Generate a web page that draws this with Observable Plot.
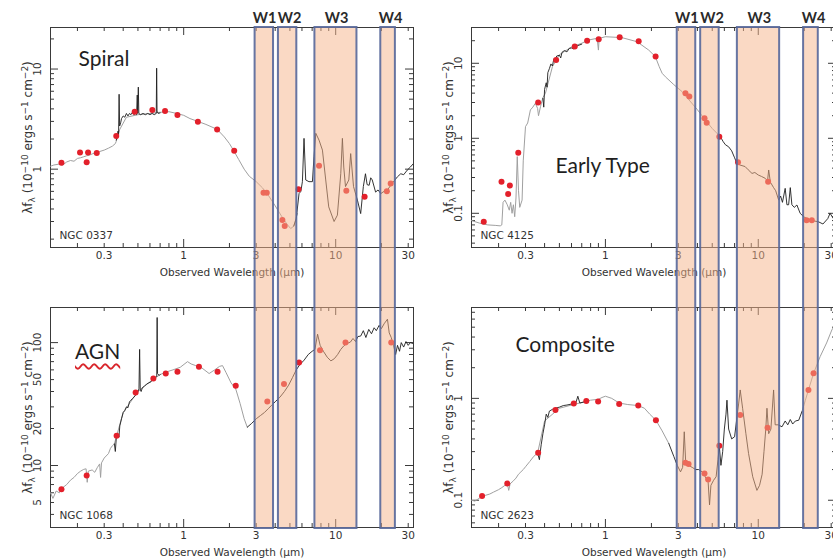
<!DOCTYPE html>
<html><head><meta charset="utf-8">
<script src="https://cdn.jsdelivr.net/npm/d3@7"></script>
<script src="https://cdn.jsdelivr.net/npm/@observablehq/plot@0.6"></script>
<style>
body{margin:0;background:#fff;}
#wrap{position:relative;width:833px;height:559px;overflow:hidden;background:#fff;}
#wrap svg{position:absolute;}
.htitle{position:absolute;font-family:Lato,sans-serif;font-size:21px;line-height:21px;color:#1f1f1f;white-space:nowrap;
 text-decoration:underline wavy #d9262c;text-decoration-thickness:1.5px;text-underline-offset:4px;text-decoration-skip-ink:none;}
</style></head><body><div id="wrap"></div>
<script>
// ---------- shared axis values ----------
const xDomain = [0.133, 32.5];
const xTickLabels = [0.3, 0.6, 1, 3, 6, 10, 30];
const xMajor = [1, 10];
const xMinor = [0.2,0.3,0.4,0.5,0.6,0.7,0.8,0.9,2,3,4,5,6,7,8,9,20,30];

// ---------- WISE bands ----------
const bandNames = ["W1", "W2", "W3", "W4"];
const bandLo = [2.95, 4.2, 7.3, 19.8];
const bandHi = [3.9, 5.55, 13.8, 24.7];
const bandLabelAt = [3.41, 4.98, 10.15, 23.0];

// ---------- Spiral (NGC 0337) ----------
const spiralModel = [
 [[0.133,1.07],[0.14,1.1],[0.15,1.12],[0.16,1.1],[0.17,1.18],[0.18,1.22],[0.19,1.2],[0.2,1.28],[0.21,1.3],[0.22,1.33],[0.23,1.36],[0.24,1.38],[0.25,1.42],[0.26,1.45],[0.28,1.5],[0.3,1.55],[0.32,1.62],[0.34,1.7],[0.355,1.8],[0.36,1.9],[0.38,2.5],[0.42,3.3],[0.5,3.5],[0.6,3.6],[0.7,3.7],[0.8,3.75],[0.9,3.6],[1.0,3.45],[1.1,3.2],[1.24,3.0],[1.4,2.8],[1.66,2.5],[1.85,2.1],[2.0,1.8],[2.15,1.5],[2.3,1.25],[2.5,1.0],[2.7,0.85],[3.0,0.75],[3.3,0.65],[3.6,0.55],[4.0,0.43],[4.4,0.34],[4.8,0.28],[5.06,0.255],[5.3,0.27],[5.6,0.36]]
];
const spiralSpec = [
 [[0.36,1.95],[0.365,2.1],[0.37,2.4],[0.373,2.2],[0.376,5.6],[0.379,2.7],[0.385,2.9],[0.39,3.2],[0.4,3.4],[0.41,3.3],[0.42,3.6],[0.43,3.4],[0.44,3.6],[0.45,3.5],[0.46,3.7],[0.47,3.5],[0.48,3.6],[0.49,3.5],[0.495,5.5],[0.498,3.6],[0.503,6.6],[0.507,3.6],[0.52,3.5],[0.54,3.6],[0.56,3.5],[0.58,3.6],[0.6,3.5],[0.62,3.6],[0.64,3.5],[0.66,3.6],[0.664,10.2],[0.668,3.8],[0.68,3.6],[0.7,3.65]],
 [[5.3,0.27],[5.5,0.32],[5.74,0.57],[5.9,0.6],[6.04,0.75],[6.19,2.03],[6.35,0.78],[6.67,0.75],[7.03,0.75],[7.2,1.33],[7.4,2.28],[7.77,1.95],[8.18,1.55],[8.6,0.78],[9.0,0.42],[9.76,0.3],[10.26,0.347],[10.8,0.9],[11.07,2.03],[11.3,1.05],[11.6,0.67],[12.2,0.78],[12.55,1.43],[13.1,0.67],[13.9,0.49],[14.6,0.36],[15.2,0.67],[15.7,0.9],[16.1,0.7],[16.6,0.69],[17.0,0.82],[17.4,0.78],[18.3,0.59],[19.0,0.62],[19.8,0.57],[20.8,0.6],[21.9,0.62],[23.5,0.72],[25.5,0.84],[26.8,0.9],[28.0,0.88],[29.6,0.98],[31,1.05],[32.5,1.14]]
];
const spiralPhot = [[0.157,1.16],[0.208,1.47],[0.23,1.17],[0.235,1.47],[0.268,1.45],[0.36,2.14],[0.476,3.74],[0.622,3.9],[0.754,3.8],[0.91,3.47],[1.24,2.97],[1.66,2.49],[2.15,1.53],[3.35,0.58],[3.52,0.58],[4.46,0.31],[4.62,0.27],[5.69,0.63],[7.77,1.08],[11.75,0.61],[15.5,0.53],[21.7,0.6],[23,0.72]];

// ---------- Early Type (NGC 4125) ----------
const earlyModel = [
 [[0.133,0.08],[0.15,0.074],[0.17,0.07],[0.19,0.069],[0.205,0.068],[0.21,0.07],[0.214,0.14],[0.22,0.15],[0.228,0.13],[0.235,0.11],[0.24,0.14],[0.245,0.1],[0.25,0.13],[0.255,0.09],[0.26,0.16],[0.265,0.57],[0.27,0.2],[0.275,0.12],[0.285,0.15],[0.29,0.5],[0.3,1.43],[0.31,1.6],[0.323,2.39],[0.335,2.6],[0.348,2.93],[0.36,2.5],[0.365,2.0],[0.376,2.64],[0.39,3.5],[0.405,3.98],[0.45,9],[0.5,13],[0.6,16.5],[0.7,18.5],[0.78,20.5],[0.883,21.5],[0.9,15],[0.91,21.5],[1.0,22.6],[1.28,22],[1.61,19.4],[1.92,15],[2.12,12.3],[2.25,9],[2.35,7.36],[2.47,6.6],[2.8,5.2],[3.17,4.2],[3.5,3.3],[4.0,2.4],[4.5,1.76],[5.0,1.35],[5.65,1.05]]
];
const earlySpec = [
 [[0.39,3.4],[0.395,2.6],[0.4,4.5],[0.41,5.5],[0.415,4.8],[0.42,7.5],[0.43,8.5],[0.44,9.8],[0.45,9.2],[0.46,11.5],[0.47,11.1],[0.48,12.5],[0.5,12.8],[0.51,11.8],[0.52,14],[0.54,14.8],[0.56,14.2],[0.58,15.8],[0.6,16],[0.62,15.5],[0.64,17],[0.66,17.2],[0.7,18]],
 [[5.65,1.05],[5.9,0.9],[6.1,0.82],[6.4,0.77],[6.7,0.68],[7.0,0.55],[7.26,0.46],[7.6,0.44],[8.2,0.42],[8.6,0.38],[9.1,0.34],[9.5,0.35],[10.0,0.324],[10.5,0.31],[11.1,0.293],[11.5,0.27],[11.7,0.378],[12.0,0.26],[12.6,0.22],[13.0,0.2],[13.6,0.15],[14.0,0.17],[14.4,0.14],[15.0,0.215],[15.4,0.13],[15.8,0.13],[16.2,0.22],[16.6,0.13],[17.2,0.12],[17.9,0.129],[18.8,0.1],[19.8,0.09],[20.7,0.0857],[22.5,0.08],[24.8,0.077],[26.5,0.072],[28.5,0.085],[29.5,0.1],[31,0.085],[32.5,0.09]]
];
const earlyPhot = [[0.16,0.077],[0.209,0.264],[0.231,0.181],[0.237,0.234],[0.269,0.644],[0.363,2.99],[0.476,11.1],[0.63,16.7],[0.759,20],[0.904,20.9],[1.24,22.2],[1.65,19.6],[2.13,12.3],[3.34,3.98],[3.54,3.6],[4.45,1.85],[4.6,1.61],[5.56,1.05],[7.37,0.48],[11.6,0.264],[20.7,0.081],[22.4,0.081]];

// ---------- AGN (NGC 1068) ----------
const agnModel = [
 [[0.133,6.0],[0.138,5.4],[0.145,6.2],[0.152,6.0],[0.16,6.6],[0.17,7.0],[0.18,7.6],[0.19,8.0],[0.2,8.6],[0.21,9.0],[0.22,9.3],[0.228,9.4],[0.232,7.3],[0.236,9.0],[0.25,9.2],[0.26,8.8],[0.27,9.6],[0.28,10.3],[0.284,8.0],[0.288,10.5],[0.3,11.5],[0.32,12.5],[0.33,13.8],[0.34,14.5],[0.35,15],[0.4,27],[0.5,40],[0.6,48],[0.7,55],[0.78,58],[0.85,60],[0.95,63],[1.06,70],[1.12,67],[1.2,65],[1.3,63],[1.47,56],[1.6,60],[1.72,64],[1.8,65],[1.9,57],[2.05,47],[2.2,42],[2.35,32],[2.5,24],[2.62,20.5]]
];
const agnSpec = [
 [[0.35,15],[0.355,13],[0.36,16.5],[0.37,18],[0.375,17],[0.38,21],[0.39,24],[0.4,27],[0.41,28],[0.42,30],[0.43,29.5],[0.44,33],[0.45,34],[0.46,35],[0.47,36],[0.48,37],[0.49,38],[0.5,40],[0.508,42],[0.513,88],[0.518,41],[0.525,40],[0.535,43],[0.55,44],[0.57,46],[0.59,47],[0.61,48],[0.63,51],[0.65,52],[0.665,53],[0.669,160],[0.673,56],[0.69,54],[0.7,55]],
 [[2.62,20.5],[2.8,22],[3.0,24],[3.2,25.5],[3.4,27],[3.6,29],[3.8,31],[4.0,33],[4.3,36],[4.6,40],[4.9,45],[5.2,52],[5.5,60],[5.8,66],[6.2,72],[6.6,80],[7.0,85],[7.3,88],[7.6,117],[7.9,95],[8.3,85],[8.8,76],[9.3,71],[9.8,74],[10.3,80],[10.8,88],[11.3,94],[11.8,98],[12.5,101],[13.0,108],[13.5,102],[14.0,112],[14.6,113],[15.2,125],[15.8,110],[16.5,128],[17.2,118],[17.9,132],[18.5,125],[19.3,138],[20.0,130],[20.8,142],[21.9,155],[22.5,120],[23.2,110],[24,95],[24.8,80],[25.5,95],[26.3,85],[27,100],[28,92],[29,102],[30,95],[31,100],[32.5,98]]
];
const agnPhot = [[0.157,6.4],[0.23,8.3],[0.362,17.5],[0.483,39.3],[0.632,51],[0.762,56],[0.91,58],[1.26,63.5],[1.67,58],[2.2,44.6],[3.55,33.2],[4.57,46],[5.74,68.9],[7.89,86.7],[11.6,100],[23.2,100]];

// ---------- Composite (NGC 2623) ----------
const compModel = [
 [[0.133,0.1],[0.14,0.098],[0.15,0.105],[0.156,0.108],[0.165,0.112],[0.175,0.115],[0.185,0.12],[0.2,0.127],[0.21,0.133],[0.22,0.14],[0.228,0.146],[0.233,0.125],[0.238,0.145],[0.25,0.155],[0.26,0.165],[0.27,0.18],[0.28,0.19],[0.29,0.2],[0.3,0.213],[0.32,0.24],[0.34,0.27],[0.36,0.29],[0.4,0.6],[0.5,0.8],[0.6,0.86],[0.72,0.92],[0.8,0.96],[0.9,0.98],[0.95,1.02],[1.0,1.05],[1.1,1.0],[1.23,0.9],[1.4,0.87],[1.64,0.85],[1.8,0.8],[1.95,0.7],[2.14,0.61],[2.35,0.48],[2.6,0.36]],
 [[19.3,0.74],[20.3,0.95],[21.3,1.21],[23,1.76],[25.4,2.57],[28,3.5],[30.3,4.7],[32.5,5.5]]
];
const compSpec = [
 [[0.36,0.29],[0.37,0.25],[0.375,0.3],[0.38,0.35],[0.39,0.45],[0.4,0.55],[0.41,0.7],[0.42,0.65],[0.43,0.75],[0.45,0.78],[0.47,0.8],[0.5,0.82],[0.53,0.85],[0.56,0.86],[0.6,0.88],[0.64,0.9],[0.66,1.05],[0.68,0.9],[0.72,0.92]],
 [[2.6,0.36],[2.8,0.27],[2.95,0.22],[3.1,0.19],[3.2,0.21],[3.28,0.47],[3.35,0.24],[3.5,0.22],[3.7,0.21],[3.9,0.2],[4.07,0.2],[4.3,0.19],[4.5,0.17],[4.7,0.15],[4.8,0.09],[4.9,0.14],[5.1,0.157],[5.3,0.17],[5.45,0.25],[5.56,0.34],[5.7,0.22],[5.85,0.3],[6.0,0.5],[6.15,0.7],[6.24,0.96],[6.4,0.5],[6.7,0.4],[7.0,0.42],[7.26,0.66],[7.45,0.9],[7.62,1.21],[7.9,0.8],[8.3,0.45],[8.64,0.288],[9.2,0.17],[9.8,0.125],[10.2,0.14],[10.6,0.18],[10.9,0.3],[11.2,0.5],[11.4,0.8],[11.7,0.45],[12.1,0.5],[12.6,1.21],[12.9,0.55],[13.5,0.55],[14.3,0.526],[15,0.6],[15.6,0.55],[16.2,0.62],[16.8,0.56],[17.5,0.6],[18.4,0.61],[19.3,0.74]]
];
const compPhot = [[0.156,0.11],[0.228,0.146],[0.363,0.292],[0.471,0.77],[0.621,0.89],[0.75,0.94],[0.896,0.93],[1.23,0.88],[1.64,0.85],[2.14,0.61],[3.34,0.233],[3.5,0.227],[4.45,0.183],[4.7,0.16],[5.56,0.342],[7.62,0.685],[11.5,0.514],[21.3,1.21],[23,1.76]];

// ---------- panel setup ----------
const panels = [
  {title:"Spiral", ngc:"NGC 0337", model:spiralModel, spec:spiralSpec, phot:spiralPhot,
   yDomain:[0.165,26], yLabels:[1,10], yMajor:[1,10], yMinor:[0.2,0.3,0.4,0.5,0.6,0.7,0.8,0.9,2,3,4,5,6,7,8,9,20],
   left:0, top:0, mL:50, mR:7, tdx:28, tdy:32},
  {title:"Early Type", ngc:"NGC 4125", model:earlyModel, spec:earlySpec, phot:earlyPhot,
   yDomain:[0.035,30], yLabels:[0.1,1,10], yMajor:[0.1,1,10], yMinor:[0.04,0.05,0.06,0.07,0.08,0.09,0.2,0.3,0.4,0.5,0.6,0.7,0.8,0.9,2,3,4,5,6,7,8,9,20],
   left:420, top:0, mL:51, mR:4, tdx:84, tdy:139},
  {title:"AGN", html:true, ngc:"NGC 1068", model:agnModel, spec:agnSpec, phot:agnPhot,
   yDomain:[3.13,193], yLabels:[5,10,20,50,100], yMajor:[10,100], yMinor:[4,5,6,7,8,9,20,30,40,50,60,70,80,90],
   left:0, top:280, mL:50, mR:7, tdx:25, tdy:44},
  {title:"Composite", ngc:"NGC 2623", model:compModel, spec:compSpec, phot:compPhot,
   yDomain:[0.054,7.8], yLabels:[0.1,1], yMajor:[0.1,1], yMinor:[0.06,0.07,0.08,0.09,0.2,0.3,0.4,0.5,0.6,0.7,0.8,0.9,2,3,4,5,6,7],
   left:420, top:280, mL:51, mR:4, tdx:44, tdy:38}
];

const wrap = document.getElementById("wrap");
const fmt = d => String(d);
const AX = "#3a3a3a";

function drawPanel(p) {
  const W = 420, H = 280, mT = 27, mB = 33;
  const iw = W - p.mL - p.mR, ih = H - mT - mB;
  const lo = {x: d => d[0], y: d => d[1], clip: true};
  const marks = [
    Plot.frame({stroke: AX, strokeWidth: 1}),
    Plot.tickX(xMajor, {x: d => d, insetTop: ih - 8, stroke: AX}),
    Plot.tickX(xMajor, {x: d => d, insetBottom: ih - 8, stroke: AX}),
    Plot.tickX(xMinor, {x: d => d, insetTop: ih - 4, stroke: AX}),
    Plot.tickX(xMinor, {x: d => d, insetBottom: ih - 4, stroke: AX}),
    Plot.tickY(p.yMajor, {y: d => d, insetRight: iw - 8, stroke: AX}),
    Plot.tickY(p.yMajor, {y: d => d, insetLeft: iw - 8, stroke: AX}),
    Plot.tickY(p.yMinor, {y: d => d, insetRight: iw - 4, stroke: AX}),
    Plot.tickY(p.yMinor, {y: d => d, insetLeft: iw - 4, stroke: AX}),
    ...p.model.map(s => Plot.line(s, {...lo, stroke: "#a0a0a0", strokeWidth: 1})),
    ...p.spec.map(s => Plot.line(s, {...lo, stroke: "#1e1e1e", strokeWidth: 0.9})),
    Plot.dot(p.phot, {x: d => d[0], y: d => d[1], r: 3, fill: "#e3202b", clip: true}),
    Plot.axisX({ticks: xTickLabels, tickFormat: fmt, tickSize: 0, tickPadding: 4, fontSize: 10.5, label: null}),
    Plot.axisY({ticks: p.yLabels, tickFormat: fmt, tickSize: 0, tickRotate: -90, tickPadding: 10, fontSize: 10.5, label: null}),
    Plot.text(["Observed Wavelength (μm)"], {frameAnchor: "bottom", dy: 25, lineAnchor: "middle", textAnchor: "middle", fontSize: 10.5, fill: "#333"}),
    Plot.text(["YLABEL"], {frameAnchor: "left", dx: -22, rotate: -90, lineAnchor: "middle", textAnchor: "middle", fontSize: 12, fill: "#333"}),
    Plot.text([p.ngc], {frameAnchor: "bottom-left", dx: 9, dy: -12, lineAnchor: "middle", textAnchor: "start", fontSize: 10.5, fill: "#333"})
  ];
  if (!p.html) marks.push(Plot.text([p.title], {frameAnchor: "top-left", dx: p.tdx, dy: p.tdy, lineAnchor: "middle", textAnchor: "start", fontSize: 21, fontFamily: "Lato", fill: "#1f1f1f"}));
  const svg = Plot.plot({
    width: W, height: H, marginLeft: p.mL, marginRight: p.mR, marginTop: mT, marginBottom: mB,
    x: {type: "log", domain: xDomain, axis: null},
    y: {type: "log", domain: p.yDomain, axis: null},
    style: {fontFamily: "DejaVu Sans", fontSize: "10.5px", color: "#333", background: "transparent", overflow: "visible"},
    marks
  });
  svg.style.left = p.left + "px";
  svg.style.top = p.top + "px";
  wrap.appendChild(svg);
  const s = d3.select(svg);
  s.selectAll("text").filter(function() { return d3.select(this).text() === "YLABEL"; }).each(function() {
    const t = d3.select(this);
    t.text("").attr("text-anchor", "start");
    const parts = [["λf",0,null],["λ",2.5,9],[" (10",-2.5,null],["−10",-4.5,9],[" ergs s",4.5,null],["−1",-4.5,9],[" cm",4.5,null],["−2",-4.5,9],[")",4.5,null]];
    parts.forEach(([str, dy, fs]) => {
      const ts = t.append("tspan").text(str);
      if (dy) ts.attr("dy", dy);
      if (fs) ts.attr("font-size", fs);
    });
    const node = this;
    if (node.getAttribute("transform")) {
      const bb = node.getBBox();
      t.attr("x", -(bb.x + bb.width / 2));
    }
  });
  if (p.html) {
    const div = document.createElement("div");
    div.className = "htitle";
    div.textContent = p.title;
    div.style.left = (p.left + p.mL + p.tdx) + "px";
    div.style.top = (p.top + 27 + p.tdy - 11) + "px";
    wrap.appendChild(div);
  }
}

function drawOverlay(left, mL, mR) {
  const bands = bandNames.map((n, i) => ({n, lo: bandLo[i], hi: bandHi[i], at: bandLabelAt[i]}));
  const svg = Plot.plot({
    width: 420, height: 559, marginLeft: mL, marginRight: mR, marginTop: 27, marginBottom: 31,
    x: {type: "log", domain: xDomain, axis: null},
    style: {background: "transparent", overflow: "visible", fontFamily: "Lato"},
    marks: [
      Plot.rect(bands, {x1: "lo", x2: "hi", fill: "#f5b48a", fillOpacity: 0.5, stroke: "#56679a", strokeWidth: 2, strokeOpacity: 0.9}),
      Plot.text(bands, {x: "at", text: "n", frameAnchor: "top", dy: -9, lineAnchor: "middle", textAnchor: "middle", fontSize: 14.5, fontWeight: 700, fill: "#2a2a2a"})
    ]
  });
  svg.style.left = left + "px";
  svg.style.top = "0px";
  svg.style.pointerEvents = "none";
  wrap.appendChild(svg);
}

panels.forEach(drawPanel);
drawOverlay(0, 50, 7);
drawOverlay(420, 51, 4);
</script></body></html>
